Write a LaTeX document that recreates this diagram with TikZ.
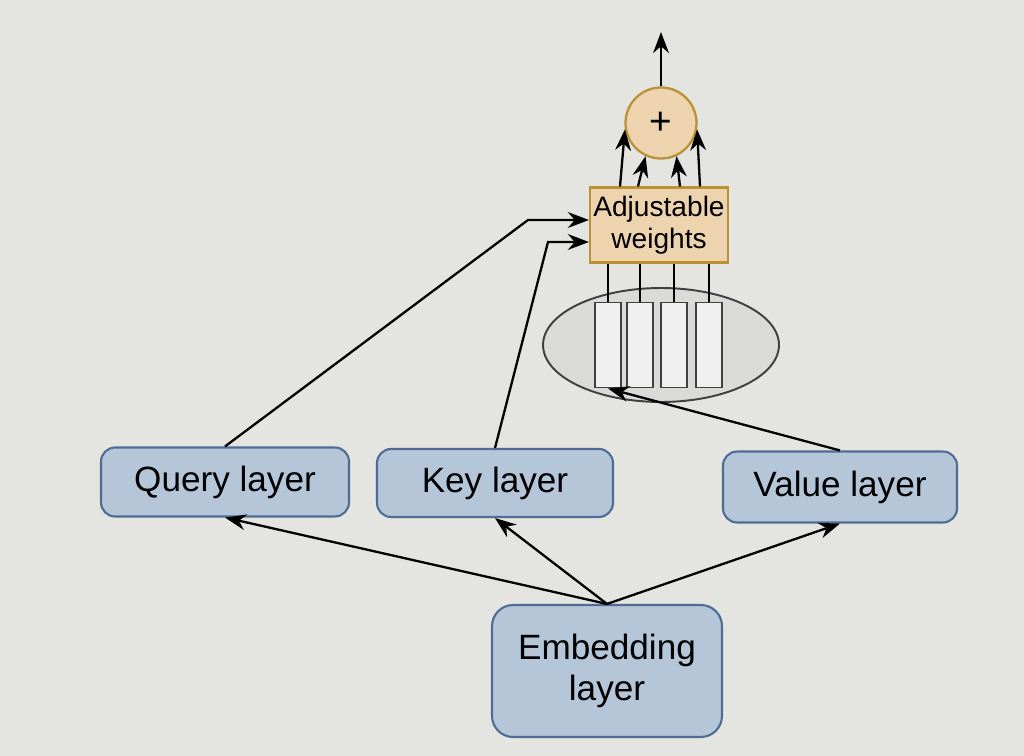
\documentclass[tikz,border=0pt]{standalone}
\usepackage{fontspec}
\setmainfont{Liberation Sans}
\usetikzlibrary{arrows.meta, positioning, shapes, calc}
\definecolor{ScreenGray}{RGB}{228, 228, 225}
\definecolor{LayerBlue}{RGB}{180, 198, 216}
\definecolor{LayerEdge}{RGB}{78, 108, 148}
\definecolor{WeightTan}{RGB}{238, 212, 174}
\definecolor{WeightEdge}{RGB}{184, 146, 52}
\definecolor{PoolGray}{RGB}{218, 218, 216}

\begin{document}
\begin{tikzpicture}[x=0.02cm, y=-0.02cm,
        layer/.style={draw=LayerEdge, line width=1.2pt, fill=LayerBlue, rounded corners=8pt,
            align=center, font=\fontsize{20}{23}\selectfont},
        vecbar/.style={draw=black!75, line width=1.1pt, fill=white!88!gray, inner sep=0pt,
            minimum width=0.52cm, minimum height=1.7cm},
        arr/.style={line width=1.3pt, -{Stealth[length=12pt, width=9pt]}}]
    % Background
    \fill[ScreenGray] (0,0) rectangle (1024,756);
    \useasboundingbox (0,0) rectangle (1024,756);

    % Layers
    \node[layer, minimum width=4.96cm, minimum height=1.38cm] (query) at (225,482) {Query layer};
    \node[layer, minimum width=4.72cm, minimum height=1.36cm] (key) at (495,483) {Key layer};
    \node[layer, minimum width=4.68cm, minimum height=1.42cm] (value) at (840,487) {Value layer};
    \node[layer, minimum width=4.6cm, minimum height=2.64cm, rounded corners=12pt] (embed) at (607,671) {Embedding\\layer};

    % Value vectors
    \node[ellipse, draw=black!75, line width=1.1pt, fill=PoolGray, minimum width=4.72cm, minimum height=2.28cm] (pool) at (661,345) {};
    \foreach \i/\x in {1/608, 2/640, 3/674, 4/709}
        \node[vecbar] (bar\i) at (\x,345) {};

    % Weights and sum
    \node[draw=WeightEdge, line width=1.2pt, fill=WeightTan, align=center, inner sep=0pt,
        minimum width=2.76cm, minimum height=1.5cm, font=\fontsize{16}{18}\selectfont] (weights) at (659,225) {Adjustable\\weights};
    \node[circle, draw=WeightEdge, line width=1.3pt, fill=WeightTan, minimum size=1.42cm,
        font=\fontsize{22}{24}\selectfont] (plus) at (661,123) {+};
    \coordinate (out) at (661,32);
    \draw[arr] (plus.north) -- (out);

    \foreach \i in {1,...,4}
        \draw[line width=1.1pt] (bar\i.north) -- (bar\i.north |- weights.south);
    \foreach \dx/\a in {-39/190, -21/245, 21/295, 41/350}
        \draw[arr] ($(weights.north)+(\dx,0)$) -- (plus.\a);

    % Query and key into weights
    \coordinate (qbend) at (528,220);
    \coordinate (kbend) at (548,242);
    \draw[arr] (query.north) -- (qbend) -- (qbend -| weights.west);
    \draw[arr] (key.north) -- (kbend) -- (kbend -| weights.west);
    \draw[arr] (value.north) -- (bar1.south);

    % Embedding into layers
    \draw[arr] (embed.north) -- (query.south);
    \draw[arr] (embed.north) -- (key.south);
    \draw[arr] (embed.north) -- (value.south);
\end{tikzpicture}
\end{document}
